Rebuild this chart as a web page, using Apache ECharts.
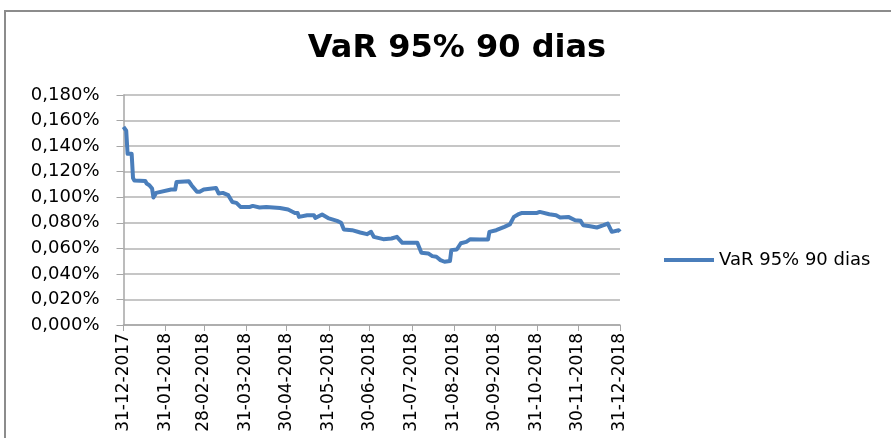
<!DOCTYPE html>
<html>
<head>
<meta charset="utf-8">
<title>VaR 95% 90 dias</title>
<script src="https://cdn.jsdelivr.net/npm/echarts@6/dist/echarts.min.js"></script>
<style>
  html, body { margin: 0; padding: 0; background: #fff; }
  #chart { width: 891px; height: 438px; }
</style>
</head>
<body>
<div id="chart"></div>
<script>
const chartTitle = 'VaR 95% 90 dias'
const seriesName = 'VaR 95% 90 dias'

// etiquetas del eje x (fin de mes)
const monthEnds = [
  '31-12-2017', '31-01-2018', '28-02-2018', '31-03-2018', '30-04-2018', '31-05-2018', '30-06-2018',
  '31-07-2018', '31-08-2018', '30-09-2018', '31-10-2018', '30-11-2018', '31-12-2018'
]

// puntos (fecha, VaR en %)
const pointDates = [
  '31-12-2017', '02-01-2018', '03-01-2018', '06-01-2018', '07-01-2018', '08-01-2018', '16-01-2018',
  '17-01-2018', '19-01-2018', '21-01-2018', '22-01-2018', '24-01-2018', '04-02-2018', '07-02-2018',
  '08-02-2018', '17-02-2018', '19-02-2018', '23-02-2018', '25-02-2018', '28-02-2018', '09-03-2018',
  '11-03-2018', '14-03-2018', '18-03-2018', '21-03-2018', '24-03-2018', '27-03-2018', '03-04-2018',
  '05-04-2018', '10-04-2018', '15-04-2018', '20-04-2018', '25-04-2018', '01-05-2018', '06-05-2018',
  '08-05-2018', '09-05-2018', '15-05-2018', '20-05-2018', '21-05-2018', '26-05-2018', '31-05-2018',
  '06-06-2018', '09-06-2018', '11-06-2018', '17-06-2018', '23-06-2018', '28-06-2018', '01-07-2018',
  '03-07-2018', '10-07-2018', '16-07-2018', '20-07-2018', '24-07-2018', '04-08-2018', '07-08-2018',
  '12-08-2018', '15-08-2018', '18-08-2018', '21-08-2018', '24-08-2018', '28-08-2018', '29-08-2018',
  '02-09-2018', '05-09-2018', '09-09-2018', '12-09-2018', '19-09-2018', '25-09-2018', '26-09-2018',
  '01-10-2018', '07-10-2018', '11-10-2018', '14-10-2018', '17-10-2018', '20-10-2018', '31-10-2018',
  '02-11-2018', '09-11-2018', '14-11-2018', '17-11-2018', '23-11-2018', '28-11-2018', '02-12-2018',
  '04-12-2018', '09-12-2018', '14-12-2018', '19-12-2018', '22-12-2018', '25-12-2018', '30-12-2018',
  '31-12-2018'
]
const pointValues = [
  0.155, 0.152, 0.134, 0.134, 0.115, 0.113, 0.1127,
  0.1107, 0.1094, 0.1068, 0.0998, 0.1034, 0.106, 0.106,
  0.112, 0.1125, 0.1094, 0.1042, 0.1042, 0.106, 0.1073,
  0.1029, 0.1034, 0.1016, 0.0963, 0.0956, 0.0924, 0.0924,
  0.0932, 0.092, 0.0924, 0.092, 0.0916, 0.0904, 0.0877,
  0.0877, 0.0846, 0.0859, 0.0859, 0.0838, 0.0865, 0.0834,
  0.0815, 0.080, 0.0748, 0.0742, 0.0724, 0.0711, 0.0729,
  0.069, 0.0672, 0.0677, 0.069, 0.0643, 0.0643, 0.0565,
  0.056, 0.0539, 0.0534, 0.0508, 0.0495, 0.050, 0.0586,
  0.0591, 0.064, 0.0651, 0.0672, 0.067, 0.0669, 0.0729,
  0.0742, 0.0768, 0.0787, 0.0846, 0.0865, 0.0877, 0.0877,
  0.0885, 0.0867, 0.0859, 0.0841, 0.0846, 0.082, 0.0815,
  0.0781, 0.0773, 0.0763, 0.0781, 0.0794, 0.0729, 0.0742,
  0.0729
]

// todos los dias del periodo como categorias
function fmtDate(d) {
  const dd = String(d.getUTCDate()).padStart(2, '0')
  const mm = String(d.getUTCMonth() + 1).padStart(2, '0')
  return dd + '-' + mm + '-' + d.getUTCFullYear()
}
const days = []
for (let t = Date.UTC(2017, 11, 31); t <= Date.UTC(2018, 11, 31); t += 86400000) {
  days.push(fmtDate(new Date(t)))
}

const chart = echarts.init(document.getElementById('chart'))
const isMonthEnd = (idx, val) => monthEnds.includes(val)

chart.setOption({
  animation: false,
  backgroundColor: '#fff',
  textStyle: { fontFamily: 'DejaVu Sans' },
  title: {
    text: chartTitle,
    left: 452,
    top: 28,
    textAlign: 'center',
    textStyle: { fontFamily: 'DejaVu Sans', fontWeight: 'bold', fontSize: 32, color: '#000' }
  },
  // marco del grafico (solo arriba e izquierda quedan dentro de la imagen)
  graphic: [{
    type: 'polyline',
    shape: { points: [[5, 438], [5, 11], [891, 11]] },
    style: { fill: 'none', stroke: '#8c8c8c', lineWidth: 2 },
    silent: true
  }],
  legend: {
    data: [seriesName],
    left: 659,
    top: 246,
    icon: 'rect',
    itemWidth: 50,
    itemHeight: 4,
    itemGap: 6,
    textStyle: { fontSize: 18, color: '#000', fontFamily: 'DejaVu Sans' }
  },
  grid: { left: 123.5, right: 271, top: 95, bottom: 113 },
  xAxis: {
    type: 'category',
    data: days,
    boundaryGap: false,
    axisLine: { lineStyle: { color: '#a6a6a6', width: 1.5 } },
    axisTick: { interval: isMonthEnd, length: 6, lineStyle: { color: '#a6a6a6' } },
    axisLabel: {
      interval: isMonthEnd,
      rotate: 90,
      margin: 8,
      fontSize: 17,
      color: '#000',
      fontFamily: 'DejaVu Sans'
    },
    splitLine: { show: false }
  },
  yAxis: {
    type: 'value',
    min: 0,
    max: 0.18,
    interval: 0.02,
    axisLine: { show: true, lineStyle: { color: '#a6a6a6', width: 1.5 } },
    axisTick: { show: true, length: 7, lineStyle: { color: '#a6a6a6' } },
    axisLabel: {
      margin: 24,
      fontSize: 18,
      color: '#000',
      fontFamily: 'DejaVu Sans',
      formatter: v => v.toFixed(3).replace('.', ',') + '%'
    },
    splitLine: { lineStyle: { color: '#b3b3b3', width: 1.5 } }
  },
  series: [{
    name: seriesName,
    type: 'line',
    data: pointDates.map((d, i) => [d, pointValues[i]]),
    symbol: 'none',
    itemStyle: { color: '#4a7ebb' },
    lineStyle: { color: '#4a7ebb', width: 4, join: 'round' }
  }]
})
</script>
</body>
</html>
